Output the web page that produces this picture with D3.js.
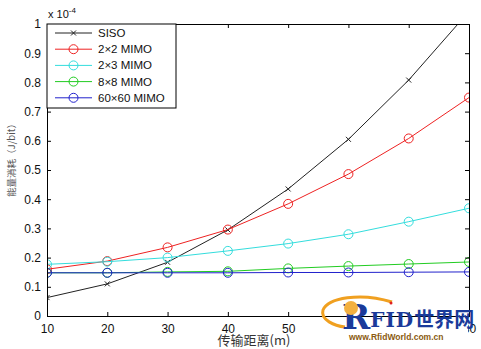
<!DOCTYPE html>
<html><head><meta charset="utf-8">
<script src="https://cdn.jsdelivr.net/npm/d3@7"></script>
<style>body{margin:0;background:#fff}svg{display:block}</style>
</head><body>
<script>
const distances = [10,20,30,40,50,60,70,80];
const seriesNames = ["SISO","2×2 MIMO","2×3 MIMO","8×8 MIMO","60×60 MIMO"];
const siso   = [0.063,0.110,0.184,0.295,0.435,0.605,0.808,1.043];
const mimo22 = [0.160,0.188,0.235,0.296,0.384,0.486,0.608,0.748];
const mimo23 = [0.177,0.186,0.200,0.223,0.248,0.280,0.323,0.369];
const mimo88 = [0.148,0.148,0.151,0.153,0.163,0.171,0.178,0.185];
const mimo6060=[0.148,0.148,0.148,0.148,0.149,0.149,0.150,0.151];
const xTicks = [10,20,30,40,50,60,70,80];
const yTicks = [0,0.1,0.2,0.3,0.4,0.5,0.6,0.7,0.8,0.9,1];
const colors = ["#222","#ee2222","#33dddd","#22cc22","#2222cc"];
const markers = ["x","o","o","o","o"];
const allSeries = [siso,mimo22,mimo23,mimo88,mimo6060];

const W=481,H=349;
const m={l:47,r:12,t:24,b:33};
const svg=d3.select("body").append("svg").attr("width",W).attr("height",H);
const x=d3.scaleLinear().domain([10,80]).range([m.l,W-m.r]);
const y=d3.scaleLinear().domain([0,1]).range([H-m.b,m.t]);
const font="Liberation Sans, Arial, sans-serif";

svg.append("clipPath").attr("id","clip").append("rect")
  .attr("x",m.l).attr("y",m.t).attr("width",W-m.r-m.l).attr("height",H-m.b-m.t);

// series
const line=d3.line().x((d,i)=>x(distances[i])).y(d=>y(d));
allSeries.forEach((s,k)=>{
  const g=svg.append("g").attr("clip-path","url(#clip)");
  g.append("path").attr("d",line(s)).attr("fill","none").attr("stroke",colors[k]).attr("stroke-width",1);
  s.forEach((v,i)=>{
    if(v>1) return;
    const cx=x(distances[i]),cy=y(v);
    if(markers[k]==="o"){
      g.append("circle").attr("cx",cx).attr("cy",cy).attr("r",4.5).attr("fill","none").attr("stroke",colors[k]).attr("stroke-width",1);
    } else {
      g.append("path").attr("d",`M${cx-2.5},${cy-2.5}L${cx+2.5},${cy+2.5}M${cx-2.5},${cy+2.5}L${cx+2.5},${cy-2.5}`)
        .attr("stroke",colors[k]).attr("stroke-width",1);
    }
  });
});

// axes (matlab style, inward ticks, box)
const axB=d3.axisBottom(x).tickValues(xTicks).tickSize(-4).tickPadding(8).tickFormat(d3.format("d"));
const axT=d3.axisTop(x).tickValues(xTicks).tickSize(-4).tickFormat("");
const axL=d3.axisLeft(y).tickValues(yTicks).tickSize(-4).tickPadding(6).tickFormat(d=>d===0?"0":d===1?"1":d3.format(".1f")(d));
const axR=d3.axisRight(y).tickValues(yTicks).tickSize(-4).tickFormat("");
function style(g){g.select(".domain").attr("stroke","#000");g.selectAll(".tick line").attr("stroke","#000");
  g.selectAll("text").attr("font-family",font).attr("font-size",12).attr("fill","#111");}
svg.append("g").attr("transform",`translate(0,${H-m.b})`).call(axB).call(style);
svg.append("g").attr("transform",`translate(0,${m.t})`).call(axT).call(style);
svg.append("g").attr("transform",`translate(${m.l},0)`).call(axL).call(style);
svg.append("g").attr("transform",`translate(${W-m.r},0)`).call(axR).call(style);

// exponent
const ex=svg.append("text").attr("x",48).attr("y",18).attr("font-family",font).attr("font-size",11).attr("fill","#111");
ex.append("tspan").text("x 10");
ex.append("tspan").attr("dy",-5).attr("font-size",8).text("-4");

// legend
const lg=svg.append("g");
lg.append("rect").attr("x",m.l).attr("y",m.t).attr("width",129).attr("height",84).attr("fill","#fff").attr("stroke","#000");
seriesNames.forEach((n,k)=>{
  const yy=33+k*16.2;
  lg.append("line").attr("x1",55).attr("x2",92).attr("y1",yy).attr("y2",yy).attr("stroke",colors[k]);
  if(markers[k]==="o") lg.append("circle").attr("cx",73.5).attr("cy",yy).attr("r",4.5).attr("fill","none").attr("stroke",colors[k]);
  else lg.append("path").attr("d",`M71,${yy-2.5}L76,${yy+2.5}M71,${yy+2.5}L76,${yy-2.5}`).attr("stroke",colors[k]);
  lg.append("text").attr("x",98).attr("y",yy+4).attr("font-family",font).attr("font-size",11.5).attr("fill","#111").text(n);
});

// axis labels
svg.append("text").attr("x",254).attr("y",345).attr("text-anchor","middle")
  .attr("font-family","Noto Sans CJK SC").attr("font-size",13).attr("fill","#333").text("传输距离(m)");
svg.append("text").attr("transform","translate(15,158) rotate(-90)").attr("text-anchor","middle")
  .attr("font-family","Noto Sans CJK SC").attr("font-size",9.5).attr("fill","#555").text("能量消耗（J/bit）");

// watermark logo
const lo=svg.append("g");
lo.append("rect").attr("x",338).attr("y",322).attr("width",130).attr("height",24).attr("fill","#fff");
lo.append("path").attr("d","M392,302 C360,292 328,298 323,310 C320,320 335,326 345,327")
  .attr("fill","none").attr("stroke","#f0a020").attr("stroke-width",3);
const lt=lo.append("text").attr("x",342).attr("y",329).attr("font-weight","bold").attr("fill","#1a3a9a");
lt.append("tspan").attr("font-family","DejaVu Serif, serif").attr("font-size",34).text("R");
lt.append("tspan").attr("font-family","DejaVu Serif, serif").attr("font-size",20).attr("letter-spacing",1).attr("dy",-2).text("FID");
lt.append("tspan").attr("font-family","Noto Sans CJK SC").attr("font-size",20).text("世界网");
lo.append("circle").attr("cx",351).attr("cy",308).attr("r",7).attr("fill","#f3b040");
lo.append("text").attr("x",349).attr("y",340).attr("font-family",font).attr("font-weight","bold")
  .attr("font-size",8.5).attr("fill","#8a5a10").text("www.RfidWorld.com.cn");
lo.append("circle").attr("cx",391).attr("cy",303).attr("r",1.5).attr("fill","#e02020");
</script>
</body></html>
